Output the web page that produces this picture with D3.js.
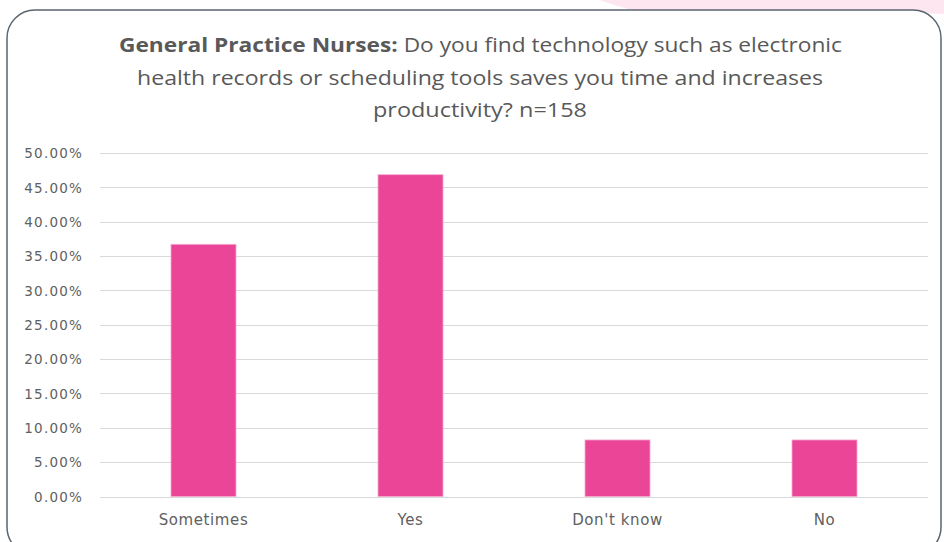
<!DOCTYPE html>
<html><head><meta charset="utf-8">
<script src="https://cdn.jsdelivr.net/npm/d3@7"></script>
<style>html,body{margin:0;padding:0;background:#fff;}svg{display:block;}</style>
</head><body>
<svg id="c" width="944" height="542"></svg>
<script>
const categories = ["Sometimes", "Yes", "Don't know", "No"];
const values = [0.3671, 0.4684, 0.0823, 0.0823];
const yTicks = [0, 0.05, 0.10, 0.15, 0.20, 0.25, 0.30, 0.35, 0.40, 0.45, 0.50];
const titleBold = "General Practice Nurses:";
const titleLines = [" Do you find technology such as electronic", "health records or scheduling tools saves you time and increases", "productivity?  n=158"];

const svg = d3.select("#c");
const font = "'Open Sans', sans-serif";
const axisFont = "'DejaVu Sans', sans-serif";
const textCol = "#595959";

// faint pink background blob at top right
svg.append("path").attr("d", "M600,0 L944,0 L944,14 Q900,12 880,12 L640,12 Q615,6 600,0Z").attr("fill", "#fde6ef");

// frame
svg.append("rect").attr("x", 7).attr("y", 10).attr("width", 934).attr("height", 545)
  .attr("rx", 28).attr("ry", 28).attr("fill", "#fff").attr("stroke", "#5a6670").attr("stroke-width", 1.5);

const x = d3.scaleBand().domain(categories).range([100, 928]).paddingInner(0.686).paddingOuter(0.343);
const y = d3.scaleLinear().domain([0, 0.5]).range([496.5, 153]);

// gridlines
svg.append("g").selectAll("line").data(yTicks).join("line")
  .attr("x1", 100).attr("x2", 928)
  .attr("y1", d => Math.round(y(d)) + 0.5).attr("y2", d => Math.round(y(d)) + 0.5)
  .attr("stroke", "#d9d9d9").attr("stroke-width", 1);

// y axis labels
const yAxis = d3.axisLeft(y).tickValues(yTicks).tickFormat(d3.format(".2%")).tickSize(0).tickPadding(0);
const ga = svg.append("g").attr("transform", "translate(83,0)").call(yAxis);
ga.select(".domain").remove();
ga.selectAll("text").attr("font-family", axisFont).attr("font-size", 13.5).attr("letter-spacing", 1.2)
  .attr("fill", "#606060").attr("dy", "0.35em");

// bars
svg.append("g").selectAll("rect").data(values).join("rect")
  .attr("x", (d, i) => x(categories[i])).attr("width", x.bandwidth())
  .attr("y", d => y(d)).attr("height", d => y(0) - y(d))
  .attr("fill", "#ea4597").attr("stroke", "#f7a9cf").attr("stroke-width", 0.8);

// x axis labels
const xAxis = d3.axisBottom(x).tickSize(0).tickPadding(0);
const gx = svg.append("g").attr("transform", "translate(0,514)").call(xAxis);
gx.select(".domain").remove();
gx.selectAll("text").attr("font-family", axisFont).attr("font-size", 15).attr("letter-spacing", 0.6)
  .attr("fill", "#606060").attr("dy", "0.75em");

// title
const t1 = svg.append("text").attr("x", 119).attr("y", 52).attr("font-family", font).attr("font-size", 19.5).attr("fill", textCol)
  .attr("textLength", 723).attr("lengthAdjust", "spacingAndGlyphs");
t1.append("tspan").attr("font-weight", "bold").text(titleBold);
t1.append("tspan").text(titleLines[0]);
svg.append("text").attr("x", 137).attr("y", 85).attr("font-family", font).attr("font-size", 19.5).attr("fill", textCol)
  .attr("textLength", 686).attr("lengthAdjust", "spacingAndGlyphs").text(titleLines[1]);
svg.append("text").attr("x", 373).attr("y", 117).attr("font-family", font).attr("font-size", 19.5).attr("fill", textCol)
  .attr("textLength", 214).attr("lengthAdjust", "spacingAndGlyphs").text(titleLines[2]);
</script>
</body></html>
